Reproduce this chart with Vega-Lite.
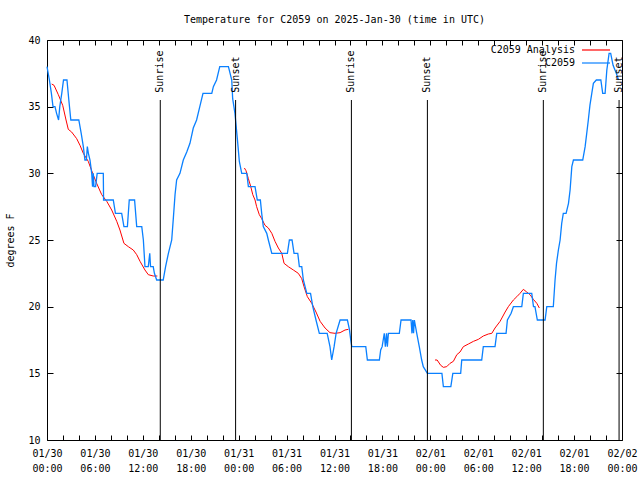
{
  "$schema": "https://vega.github.io/schema/vega-lite/v6.json",
  "width": 575,
  "height": 400,
  "autosize": "none",
  "padding": {"left": 47, "top": 40, "right": 18, "bottom": 40},
  "background": "white",
  "title": {"text": "Temperature for C2059 on 2025-Jan-30 (time in UTC)", "font": "DejaVu Sans Mono", "fontSize": 10, "fontWeight": "normal", "color": "black", "offset": 10},
  "config": {
    "view": {"stroke": "black", "strokeWidth": 1},
    "font": "DejaVu Sans Mono",
    "axis": {"domain": false, "grid": false, "labelFont": "DejaVu Sans Mono", "labelFontSize": 10, "labelColor": "black", "tickColor": "black", "titleFont": "DejaVu Sans Mono", "titleFontSize": 10, "titleFontWeight": "normal", "titleColor": "black"},
    "legend": {"labelFont": "DejaVu Sans Mono", "labelFontSize": 10, "labelColor": "black"}
  },
  "datasets": {
    "station": [
      {"time": "2025-01-30T00:00:00Z", "temp": 38, "series": "C2059"},
      {"time": "2025-01-30T00:18:00Z", "temp": 37, "series": "C2059"},
      {"time": "2025-01-30T00:33:00Z", "temp": 36, "series": "C2059"},
      {"time": "2025-01-30T00:45:00Z", "temp": 35, "series": "C2059"},
      {"time": "2025-01-30T01:00:00Z", "temp": 35, "series": "C2059"},
      {"time": "2025-01-30T01:12:00Z", "temp": 34.5, "series": "C2059"},
      {"time": "2025-01-30T01:27:00Z", "temp": 34, "series": "C2059"},
      {"time": "2025-01-30T01:36:00Z", "temp": 35, "series": "C2059"},
      {"time": "2025-01-30T01:51:00Z", "temp": 36, "series": "C2059"},
      {"time": "2025-01-30T02:04:00Z", "temp": 37, "series": "C2059"},
      {"time": "2025-01-30T02:30:00Z", "temp": 37, "series": "C2059"},
      {"time": "2025-01-30T02:44:00Z", "temp": 35.5, "series": "C2059"},
      {"time": "2025-01-30T02:59:00Z", "temp": 34, "series": "C2059"},
      {"time": "2025-01-30T03:59:00Z", "temp": 34, "series": "C2059"},
      {"time": "2025-01-30T04:17:00Z", "temp": 33, "series": "C2059"},
      {"time": "2025-01-30T04:33:00Z", "temp": 32, "series": "C2059"},
      {"time": "2025-01-30T04:45:00Z", "temp": 31, "series": "C2059"},
      {"time": "2025-01-30T04:56:00Z", "temp": 31, "series": "C2059"},
      {"time": "2025-01-30T05:03:00Z", "temp": 32, "series": "C2059"},
      {"time": "2025-01-30T05:11:00Z", "temp": 31.5, "series": "C2059"},
      {"time": "2025-01-30T05:23:00Z", "temp": 31, "series": "C2059"},
      {"time": "2025-01-30T05:36:00Z", "temp": 30, "series": "C2059"},
      {"time": "2025-01-30T05:42:00Z", "temp": 29, "series": "C2059"},
      {"time": "2025-01-30T05:48:00Z", "temp": 30, "series": "C2059"},
      {"time": "2025-01-30T05:53:00Z", "temp": 29, "series": "C2059"},
      {"time": "2025-01-30T06:05:00Z", "temp": 29, "series": "C2059"},
      {"time": "2025-01-30T06:17:00Z", "temp": 30, "series": "C2059"},
      {"time": "2025-01-30T07:03:00Z", "temp": 30, "series": "C2059"},
      {"time": "2025-01-30T07:05:00Z", "temp": 28, "series": "C2059"},
      {"time": "2025-01-30T08:18:00Z", "temp": 28, "series": "C2059"},
      {"time": "2025-01-30T08:34:00Z", "temp": 27, "series": "C2059"},
      {"time": "2025-01-30T09:21:00Z", "temp": 27, "series": "C2059"},
      {"time": "2025-01-30T09:38:00Z", "temp": 26, "series": "C2059"},
      {"time": "2025-01-30T10:04:00Z", "temp": 26, "series": "C2059"},
      {"time": "2025-01-30T10:18:00Z", "temp": 28, "series": "C2059"},
      {"time": "2025-01-30T10:58:00Z", "temp": 28, "series": "C2059"},
      {"time": "2025-01-30T11:14:00Z", "temp": 26, "series": "C2059"},
      {"time": "2025-01-30T11:52:00Z", "temp": 26, "series": "C2059"},
      {"time": "2025-01-30T12:04:00Z", "temp": 25, "series": "C2059"},
      {"time": "2025-01-30T12:16:00Z", "temp": 23, "series": "C2059"},
      {"time": "2025-01-30T12:41:00Z", "temp": 23, "series": "C2059"},
      {"time": "2025-01-30T12:52:00Z", "temp": 24, "series": "C2059"},
      {"time": "2025-01-30T12:58:00Z", "temp": 23, "series": "C2059"},
      {"time": "2025-01-30T13:18:00Z", "temp": 23, "series": "C2059"},
      {"time": "2025-01-30T13:27:00Z", "temp": 22.5, "series": "C2059"},
      {"time": "2025-01-30T13:44:00Z", "temp": 22, "series": "C2059"},
      {"time": "2025-01-30T14:33:00Z", "temp": 22, "series": "C2059"},
      {"time": "2025-01-30T14:51:00Z", "temp": 23, "series": "C2059"},
      {"time": "2025-01-30T15:12:00Z", "temp": 24, "series": "C2059"},
      {"time": "2025-01-30T15:37:00Z", "temp": 25, "series": "C2059"},
      {"time": "2025-01-30T15:49:00Z", "temp": 26.6, "series": "C2059"},
      {"time": "2025-01-30T16:02:00Z", "temp": 28.4, "series": "C2059"},
      {"time": "2025-01-30T16:14:00Z", "temp": 29.5, "series": "C2059"},
      {"time": "2025-01-30T16:39:00Z", "temp": 30, "series": "C2059"},
      {"time": "2025-01-30T17:04:00Z", "temp": 31, "series": "C2059"},
      {"time": "2025-01-30T17:30:00Z", "temp": 31.6, "series": "C2059"},
      {"time": "2025-01-30T17:54:00Z", "temp": 32.25, "series": "C2059"},
      {"time": "2025-01-30T18:19:00Z", "temp": 33.4, "series": "C2059"},
      {"time": "2025-01-30T18:44:00Z", "temp": 34, "series": "C2059"},
      {"time": "2025-01-30T19:08:00Z", "temp": 35, "series": "C2059"},
      {"time": "2025-01-30T19:32:00Z", "temp": 36, "series": "C2059"},
      {"time": "2025-01-30T20:38:00Z", "temp": 36, "series": "C2059"},
      {"time": "2025-01-30T20:50:00Z", "temp": 36.5, "series": "C2059"},
      {"time": "2025-01-30T21:14:00Z", "temp": 37, "series": "C2059"},
      {"time": "2025-01-30T21:38:00Z", "temp": 38, "series": "C2059"},
      {"time": "2025-01-30T22:43:00Z", "temp": 38, "series": "C2059"},
      {"time": "2025-01-30T23:08:00Z", "temp": 37, "series": "C2059"},
      {"time": "2025-01-30T23:15:00Z", "temp": 35.6, "series": "C2059"},
      {"time": "2025-01-30T23:32:00Z", "temp": 34.5, "series": "C2059"},
      {"time": "2025-01-30T23:50:00Z", "temp": 32.6, "series": "C2059"},
      {"time": "2025-01-31T00:05:00Z", "temp": 30.9, "series": "C2059"},
      {"time": "2025-01-31T00:23:00Z", "temp": 30, "series": "C2059"},
      {"time": "2025-01-31T01:01:00Z", "temp": 30, "series": "C2059"},
      {"time": "2025-01-31T01:13:00Z", "temp": 29, "series": "C2059"},
      {"time": "2025-01-31T02:03:00Z", "temp": 29, "series": "C2059"},
      {"time": "2025-01-31T02:20:00Z", "temp": 28, "series": "C2059"},
      {"time": "2025-01-31T02:43:00Z", "temp": 28, "series": "C2059"},
      {"time": "2025-01-31T02:53:00Z", "temp": 27, "series": "C2059"},
      {"time": "2025-01-31T03:05:00Z", "temp": 26, "series": "C2059"},
      {"time": "2025-01-31T03:31:00Z", "temp": 25.5, "series": "C2059"},
      {"time": "2025-01-31T03:43:00Z", "temp": 25, "series": "C2059"},
      {"time": "2025-01-31T04:09:00Z", "temp": 24, "series": "C2059"},
      {"time": "2025-01-31T06:06:00Z", "temp": 24, "series": "C2059"},
      {"time": "2025-01-31T06:21:00Z", "temp": 25, "series": "C2059"},
      {"time": "2025-01-31T06:41:00Z", "temp": 25, "series": "C2059"},
      {"time": "2025-01-31T06:56:00Z", "temp": 24, "series": "C2059"},
      {"time": "2025-01-31T07:24:00Z", "temp": 24, "series": "C2059"},
      {"time": "2025-01-31T07:36:00Z", "temp": 23, "series": "C2059"},
      {"time": "2025-01-31T07:54:00Z", "temp": 23, "series": "C2059"},
      {"time": "2025-01-31T08:06:00Z", "temp": 22, "series": "C2059"},
      {"time": "2025-01-31T08:32:00Z", "temp": 21, "series": "C2059"},
      {"time": "2025-01-31T09:00:00Z", "temp": 21, "series": "C2059"},
      {"time": "2025-01-31T09:17:00Z", "temp": 20, "series": "C2059"},
      {"time": "2025-01-31T09:41:00Z", "temp": 19, "series": "C2059"},
      {"time": "2025-01-31T10:06:00Z", "temp": 18, "series": "C2059"},
      {"time": "2025-01-31T11:05:00Z", "temp": 18, "series": "C2059"},
      {"time": "2025-01-31T11:26:00Z", "temp": 17, "series": "C2059"},
      {"time": "2025-01-31T11:39:00Z", "temp": 16, "series": "C2059"},
      {"time": "2025-01-31T11:57:00Z", "temp": 17, "series": "C2059"},
      {"time": "2025-01-31T12:12:00Z", "temp": 18, "series": "C2059"},
      {"time": "2025-01-31T12:42:00Z", "temp": 19, "series": "C2059"},
      {"time": "2025-01-31T13:37:00Z", "temp": 19, "series": "C2059"},
      {"time": "2025-01-31T13:52:00Z", "temp": 18.3, "series": "C2059"},
      {"time": "2025-01-31T14:02:00Z", "temp": 17.5, "series": "C2059"},
      {"time": "2025-01-31T14:10:00Z", "temp": 17, "series": "C2059"},
      {"time": "2025-01-31T15:55:00Z", "temp": 17, "series": "C2059"},
      {"time": "2025-01-31T16:07:00Z", "temp": 16, "series": "C2059"},
      {"time": "2025-01-31T17:37:00Z", "temp": 16, "series": "C2059"},
      {"time": "2025-01-31T17:47:00Z", "temp": 16.75, "series": "C2059"},
      {"time": "2025-01-31T17:58:00Z", "temp": 17, "series": "C2059"},
      {"time": "2025-01-31T18:14:00Z", "temp": 18, "series": "C2059"},
      {"time": "2025-01-31T18:22:00Z", "temp": 17, "series": "C2059"},
      {"time": "2025-01-31T18:31:00Z", "temp": 18, "series": "C2059"},
      {"time": "2025-01-31T18:37:00Z", "temp": 17, "series": "C2059"},
      {"time": "2025-01-31T18:45:00Z", "temp": 18, "series": "C2059"},
      {"time": "2025-01-31T20:07:00Z", "temp": 18, "series": "C2059"},
      {"time": "2025-01-31T20:20:00Z", "temp": 19, "series": "C2059"},
      {"time": "2025-01-31T21:35:00Z", "temp": 19, "series": "C2059"},
      {"time": "2025-01-31T21:42:00Z", "temp": 18, "series": "C2059"},
      {"time": "2025-01-31T21:48:00Z", "temp": 19, "series": "C2059"},
      {"time": "2025-01-31T21:54:00Z", "temp": 18, "series": "C2059"},
      {"time": "2025-01-31T22:00:00Z", "temp": 19, "series": "C2059"},
      {"time": "2025-01-31T22:18:00Z", "temp": 18, "series": "C2059"},
      {"time": "2025-01-31T22:37:00Z", "temp": 17, "series": "C2059"},
      {"time": "2025-01-31T22:55:00Z", "temp": 16, "series": "C2059"},
      {"time": "2025-01-31T23:07:00Z", "temp": 15.5, "series": "C2059"},
      {"time": "2025-01-31T23:38:00Z", "temp": 15, "series": "C2059"},
      {"time": "2025-02-01T01:27:00Z", "temp": 15, "series": "C2059"},
      {"time": "2025-02-01T01:38:00Z", "temp": 14, "series": "C2059"},
      {"time": "2025-02-01T02:34:00Z", "temp": 14, "series": "C2059"},
      {"time": "2025-02-01T02:49:00Z", "temp": 15, "series": "C2059"},
      {"time": "2025-02-01T03:48:00Z", "temp": 15, "series": "C2059"},
      {"time": "2025-02-01T03:56:00Z", "temp": 16, "series": "C2059"},
      {"time": "2025-02-01T06:26:00Z", "temp": 16, "series": "C2059"},
      {"time": "2025-02-01T06:38:00Z", "temp": 17, "series": "C2059"},
      {"time": "2025-02-01T08:06:00Z", "temp": 17, "series": "C2059"},
      {"time": "2025-02-01T08:19:00Z", "temp": 18, "series": "C2059"},
      {"time": "2025-02-01T09:29:00Z", "temp": 18, "series": "C2059"},
      {"time": "2025-02-01T09:39:00Z", "temp": 19, "series": "C2059"},
      {"time": "2025-02-01T10:07:00Z", "temp": 19.5, "series": "C2059"},
      {"time": "2025-02-01T10:24:00Z", "temp": 20, "series": "C2059"},
      {"time": "2025-02-01T11:27:00Z", "temp": 20, "series": "C2059"},
      {"time": "2025-02-01T11:39:00Z", "temp": 21, "series": "C2059"},
      {"time": "2025-02-01T12:42:00Z", "temp": 21, "series": "C2059"},
      {"time": "2025-02-01T12:55:00Z", "temp": 20, "series": "C2059"},
      {"time": "2025-02-01T13:06:00Z", "temp": 20, "series": "C2059"},
      {"time": "2025-02-01T13:24:00Z", "temp": 19, "series": "C2059"},
      {"time": "2025-02-01T14:22:00Z", "temp": 19, "series": "C2059"},
      {"time": "2025-02-01T14:35:00Z", "temp": 20, "series": "C2059"},
      {"time": "2025-02-01T15:24:00Z", "temp": 20, "series": "C2059"},
      {"time": "2025-02-01T15:37:00Z", "temp": 22, "series": "C2059"},
      {"time": "2025-02-01T15:48:00Z", "temp": 23.25, "series": "C2059"},
      {"time": "2025-02-01T16:02:00Z", "temp": 24.25, "series": "C2059"},
      {"time": "2025-02-01T16:15:00Z", "temp": 25, "series": "C2059"},
      {"time": "2025-02-01T16:27:00Z", "temp": 26.25, "series": "C2059"},
      {"time": "2025-02-01T16:39:00Z", "temp": 27, "series": "C2059"},
      {"time": "2025-02-01T17:00:00Z", "temp": 27, "series": "C2059"},
      {"time": "2025-02-01T17:18:00Z", "temp": 27.75, "series": "C2059"},
      {"time": "2025-02-01T17:30:00Z", "temp": 28.75, "series": "C2059"},
      {"time": "2025-02-01T17:43:00Z", "temp": 30.5, "series": "C2059"},
      {"time": "2025-02-01T17:55:00Z", "temp": 31, "series": "C2059"},
      {"time": "2025-02-01T19:05:00Z", "temp": 31, "series": "C2059"},
      {"time": "2025-02-01T19:23:00Z", "temp": 32, "series": "C2059"},
      {"time": "2025-02-01T19:35:00Z", "temp": 33, "series": "C2059"},
      {"time": "2025-02-01T19:47:00Z", "temp": 34, "series": "C2059"},
      {"time": "2025-02-01T19:59:00Z", "temp": 35.1, "series": "C2059"},
      {"time": "2025-02-01T20:13:00Z", "temp": 36, "series": "C2059"},
      {"time": "2025-02-01T20:25:00Z", "temp": 36.75, "series": "C2059"},
      {"time": "2025-02-01T20:47:00Z", "temp": 37, "series": "C2059"},
      {"time": "2025-02-01T21:21:00Z", "temp": 37, "series": "C2059"},
      {"time": "2025-02-01T21:35:00Z", "temp": 36, "series": "C2059"},
      {"time": "2025-02-01T21:53:00Z", "temp": 36, "series": "C2059"},
      {"time": "2025-02-01T22:06:00Z", "temp": 37.75, "series": "C2059"},
      {"time": "2025-02-01T22:23:00Z", "temp": 39, "series": "C2059"},
      {"time": "2025-02-01T22:35:00Z", "temp": 39, "series": "C2059"},
      {"time": "2025-02-01T22:53:00Z", "temp": 38.1, "series": "C2059"},
      {"time": "2025-02-01T23:17:00Z", "temp": 37.5, "series": "C2059"},
      {"time": "2025-02-01T23:34:00Z", "temp": 37, "series": "C2059"}
    ],
    "analysis": [
      {"time": "2025-01-30T00:35:00Z", "temp": 36.7, "series": "C2059 Analysis", "seg": 1},
      {"time": "2025-01-30T00:53:00Z", "temp": 36.6, "series": "C2059 Analysis", "seg": 1},
      {"time": "2025-01-30T01:25:00Z", "temp": 35.9, "series": "C2059 Analysis", "seg": 1},
      {"time": "2025-01-30T01:58:00Z", "temp": 35.1, "series": "C2059 Analysis", "seg": 1},
      {"time": "2025-01-30T02:23:00Z", "temp": 34, "series": "C2059 Analysis", "seg": 1},
      {"time": "2025-01-30T02:40:00Z", "temp": 33.3, "series": "C2059 Analysis", "seg": 1},
      {"time": "2025-01-30T03:05:00Z", "temp": 33.1, "series": "C2059 Analysis", "seg": 1},
      {"time": "2025-01-30T03:43:00Z", "temp": 32.6, "series": "C2059 Analysis", "seg": 1},
      {"time": "2025-01-30T04:08:00Z", "temp": 32.1, "series": "C2059 Analysis", "seg": 1},
      {"time": "2025-01-30T04:33:00Z", "temp": 31.5, "series": "C2059 Analysis", "seg": 1},
      {"time": "2025-01-30T05:10:00Z", "temp": 30.9, "series": "C2059 Analysis", "seg": 1},
      {"time": "2025-01-30T05:43:00Z", "temp": 30, "series": "C2059 Analysis", "seg": 1},
      {"time": "2025-01-30T06:13:00Z", "temp": 29.25, "series": "C2059 Analysis", "seg": 1},
      {"time": "2025-01-30T06:51:00Z", "temp": 28.4, "series": "C2059 Analysis", "seg": 1},
      {"time": "2025-01-30T07:29:00Z", "temp": 27.9, "series": "C2059 Analysis", "seg": 1},
      {"time": "2025-01-30T08:06:00Z", "temp": 27.25, "series": "C2059 Analysis", "seg": 1},
      {"time": "2025-01-30T08:44:00Z", "temp": 26.4, "series": "C2059 Analysis", "seg": 1},
      {"time": "2025-01-30T09:08:00Z", "temp": 25.75, "series": "C2059 Analysis", "seg": 1},
      {"time": "2025-01-30T09:38:00Z", "temp": 24.75, "series": "C2059 Analysis", "seg": 1},
      {"time": "2025-01-30T10:11:00Z", "temp": 24.5, "series": "C2059 Analysis", "seg": 1},
      {"time": "2025-01-30T10:48:00Z", "temp": 24.25, "series": "C2059 Analysis", "seg": 1},
      {"time": "2025-01-30T11:14:00Z", "temp": 23.9, "series": "C2059 Analysis", "seg": 1},
      {"time": "2025-01-30T11:39:00Z", "temp": 23.4, "series": "C2059 Analysis", "seg": 1},
      {"time": "2025-01-30T12:16:00Z", "temp": 22.75, "series": "C2059 Analysis", "seg": 1},
      {"time": "2025-01-30T12:41:00Z", "temp": 22.4, "series": "C2059 Analysis", "seg": 1},
      {"time": "2025-01-30T13:18:00Z", "temp": 22.3, "series": "C2059 Analysis", "seg": 1},
      {"time": "2025-01-30T13:49:00Z", "temp": 22.3, "series": "C2059 Analysis", "seg": 1},
      {"time": "2025-01-31T00:43:00Z", "temp": 30.4, "series": "C2059 Analysis", "seg": 2},
      {"time": "2025-01-31T00:55:00Z", "temp": 30.2, "series": "C2059 Analysis", "seg": 2},
      {"time": "2025-01-31T01:13:00Z", "temp": 29.6, "series": "C2059 Analysis", "seg": 2},
      {"time": "2025-01-31T01:31:00Z", "temp": 29, "series": "C2059 Analysis", "seg": 2},
      {"time": "2025-01-31T01:46:00Z", "temp": 28.4, "series": "C2059 Analysis", "seg": 2},
      {"time": "2025-01-31T02:03:00Z", "temp": 28, "series": "C2059 Analysis", "seg": 2},
      {"time": "2025-01-31T02:15:00Z", "temp": 27.5, "series": "C2059 Analysis", "seg": 2},
      {"time": "2025-01-31T02:35:00Z", "temp": 26.9, "series": "C2059 Analysis", "seg": 2},
      {"time": "2025-01-31T02:53:00Z", "temp": 26.6, "series": "C2059 Analysis", "seg": 2},
      {"time": "2025-01-31T03:18:00Z", "temp": 26.1, "series": "C2059 Analysis", "seg": 2},
      {"time": "2025-01-31T03:43:00Z", "temp": 25.9, "series": "C2059 Analysis", "seg": 2},
      {"time": "2025-01-31T04:09:00Z", "temp": 25.5, "series": "C2059 Analysis", "seg": 2},
      {"time": "2025-01-31T04:33:00Z", "temp": 24.9, "series": "C2059 Analysis", "seg": 2},
      {"time": "2025-01-31T04:58:00Z", "temp": 24.4, "series": "C2059 Analysis", "seg": 2},
      {"time": "2025-01-31T05:24:00Z", "temp": 24, "series": "C2059 Analysis", "seg": 2},
      {"time": "2025-01-31T05:41:00Z", "temp": 23.25, "series": "C2059 Analysis", "seg": 2},
      {"time": "2025-01-31T06:13:00Z", "temp": 23, "series": "C2059 Analysis", "seg": 2},
      {"time": "2025-01-31T06:51:00Z", "temp": 22.75, "series": "C2059 Analysis", "seg": 2},
      {"time": "2025-01-31T07:28:00Z", "temp": 22.5, "series": "C2059 Analysis", "seg": 2},
      {"time": "2025-01-31T07:54:00Z", "temp": 22.1, "series": "C2059 Analysis", "seg": 2},
      {"time": "2025-01-31T08:11:00Z", "temp": 21.5, "series": "C2059 Analysis", "seg": 2},
      {"time": "2025-01-31T08:36:00Z", "temp": 20.75, "series": "C2059 Analysis", "seg": 2},
      {"time": "2025-01-31T09:09:00Z", "temp": 20.25, "series": "C2059 Analysis", "seg": 2},
      {"time": "2025-01-31T09:41:00Z", "temp": 19.6, "series": "C2059 Analysis", "seg": 2},
      {"time": "2025-01-31T10:12:00Z", "temp": 18.9, "series": "C2059 Analysis", "seg": 2},
      {"time": "2025-01-31T10:49:00Z", "temp": 18.4, "series": "C2059 Analysis", "seg": 2},
      {"time": "2025-01-31T11:26:00Z", "temp": 18.05, "series": "C2059 Analysis", "seg": 2},
      {"time": "2025-01-31T12:04:00Z", "temp": 18, "series": "C2059 Analysis", "seg": 2},
      {"time": "2025-01-31T12:42:00Z", "temp": 18.05, "series": "C2059 Analysis", "seg": 2},
      {"time": "2025-01-31T13:19:00Z", "temp": 18.25, "series": "C2059 Analysis", "seg": 2},
      {"time": "2025-01-31T13:44:00Z", "temp": 18.3, "series": "C2059 Analysis", "seg": 2},
      {"time": "2025-02-01T00:35:00Z", "temp": 16, "series": "C2059 Analysis", "seg": 3},
      {"time": "2025-02-01T00:51:00Z", "temp": 16, "series": "C2059 Analysis", "seg": 3},
      {"time": "2025-02-01T01:18:00Z", "temp": 15.6, "series": "C2059 Analysis", "seg": 3},
      {"time": "2025-02-01T01:38:00Z", "temp": 15.45, "series": "C2059 Analysis", "seg": 3},
      {"time": "2025-02-01T02:03:00Z", "temp": 15.5, "series": "C2059 Analysis", "seg": 3},
      {"time": "2025-02-01T02:28:00Z", "temp": 15.75, "series": "C2059 Analysis", "seg": 3},
      {"time": "2025-02-01T02:53:00Z", "temp": 15.9, "series": "C2059 Analysis", "seg": 3},
      {"time": "2025-02-01T03:19:00Z", "temp": 16.4, "series": "C2059 Analysis", "seg": 3},
      {"time": "2025-02-01T03:43:00Z", "temp": 16.6, "series": "C2059 Analysis", "seg": 3},
      {"time": "2025-02-01T04:08:00Z", "temp": 17, "series": "C2059 Analysis", "seg": 3},
      {"time": "2025-02-01T04:46:00Z", "temp": 17.2, "series": "C2059 Analysis", "seg": 3},
      {"time": "2025-02-01T05:24:00Z", "temp": 17.4, "series": "C2059 Analysis", "seg": 3},
      {"time": "2025-02-01T06:01:00Z", "temp": 17.55, "series": "C2059 Analysis", "seg": 3},
      {"time": "2025-02-01T06:38:00Z", "temp": 17.8, "series": "C2059 Analysis", "seg": 3},
      {"time": "2025-02-01T07:16:00Z", "temp": 17.95, "series": "C2059 Analysis", "seg": 3},
      {"time": "2025-02-01T07:42:00Z", "temp": 18, "series": "C2059 Analysis", "seg": 3},
      {"time": "2025-02-01T08:06:00Z", "temp": 18.4, "series": "C2059 Analysis", "seg": 3},
      {"time": "2025-02-01T08:44:00Z", "temp": 18.9, "series": "C2059 Analysis", "seg": 3},
      {"time": "2025-02-01T09:22:00Z", "temp": 19.6, "series": "C2059 Analysis", "seg": 3},
      {"time": "2025-02-01T09:46:00Z", "temp": 20, "series": "C2059 Analysis", "seg": 3},
      {"time": "2025-02-01T10:24:00Z", "temp": 20.5, "series": "C2059 Analysis", "seg": 3},
      {"time": "2025-02-01T10:50:00Z", "temp": 20.75, "series": "C2059 Analysis", "seg": 3},
      {"time": "2025-02-01T11:14:00Z", "temp": 21, "series": "C2059 Analysis", "seg": 3},
      {"time": "2025-02-01T11:39:00Z", "temp": 21.3, "series": "C2059 Analysis", "seg": 3},
      {"time": "2025-02-01T12:04:00Z", "temp": 21.1, "series": "C2059 Analysis", "seg": 3},
      {"time": "2025-02-01T12:29:00Z", "temp": 20.9, "series": "C2059 Analysis", "seg": 3},
      {"time": "2025-02-01T12:54:00Z", "temp": 20.55, "series": "C2059 Analysis", "seg": 3},
      {"time": "2025-02-01T13:20:00Z", "temp": 20.25, "series": "C2059 Analysis", "seg": 3},
      {"time": "2025-02-01T13:39:00Z", "temp": 19.9, "series": "C2059 Analysis", "seg": 3}
    ],
    "sun": [
      {"time": "2025-01-30T14:11:00Z", "event": "Sunrise"},
      {"time": "2025-01-30T23:37:00Z", "event": "Sunset"},
      {"time": "2025-01-31T14:07:00Z", "event": "Sunrise"},
      {"time": "2025-01-31T23:38:00Z", "event": "Sunset"},
      {"time": "2025-02-01T14:09:00Z", "event": "Sunrise"},
      {"time": "2025-02-01T23:38:00Z", "event": "Sunset"}
    ]
  },
  "layer": [
    {
      "data": {"name": "analysis"},
      "mark": {"type": "line", "strokeWidth": 1},
      "encoding": {
        "x": {"field": "time", "type": "temporal",
          "scale": {"type": "utc", "nice": false, "domain": [{"year": 2025, "month": 1, "date": 30, "utc": true}, {"year": 2025, "month": 2, "date": 2, "utc": true}]},
          "axis": {"orient": "bottom", "title": null, "tickCount": 40,
            "values": [1738195200000, 1738202400000, 1738209600000, 1738216800000, 1738224000000, 1738231200000, 1738238400000, 1738245600000, 1738252800000, 1738260000000, 1738267200000, 1738274400000, 1738281600000, 1738288800000, 1738296000000, 1738303200000, 1738310400000, 1738317600000, 1738324800000, 1738332000000, 1738339200000, 1738346400000, 1738353600000, 1738360800000, 1738368000000, 1738375200000, 1738382400000, 1738389600000, 1738396800000, 1738404000000, 1738411200000, 1738418400000, 1738425600000, 1738432800000, 1738440000000, 1738447200000, 1738454400000],
            "labelExpr": "utchours(datum.value) % 6 == 0 ? [utcFormat(datum.value, '%m/%d'), utcFormat(datum.value, '%H:%M')] : ''",
            "tickSize": -5,
            "labelPadding": 13, "labelLineHeight": 15, "labelBaseline": "top", "labelOverlap": false, "labelFlush": false}},
        "y": {"field": "temp", "type": "quantitative",
          "scale": {"domain": [10, 40], "nice": false, "zero": false},
          "axis": {"orient": "left", "title": "degrees F", "values": [10, 15, 20, 25, 30, 35, 40], "tickSize": -6, "labelPadding": 13, "titlePadding": 12}},
        "color": {"field": "series", "type": "nominal",
          "scale": {"domain": ["C2059 Analysis", "C2059"], "range": ["#ff0000", "#0a80ff"]},
          "legend": {"orient": "none", "legendX": 541, "legendY": 2, "padding": 0, "title": null, "symbolType": "M-2,0H2", "symbolSize": 196, "symbolStrokeWidth": 1.2, "labelAlign": "right", "labelOffset": -29, "rowPadding": 0}},
        "detail": {"field": "seg", "type": "nominal"}
      }
    },
    {
      "data": {"name": "station"},
      "mark": {"type": "line", "strokeWidth": 1.3},
      "encoding": {
        "x": {"field": "time", "type": "temporal",
          "axis": {"orient": "top", "title": null, "labels": false, "tickCount": 40, "tickSize": -5,
            "values": [1738195200000, 1738202400000, 1738209600000, 1738216800000, 1738224000000, 1738231200000, 1738238400000, 1738245600000, 1738252800000, 1738260000000, 1738267200000, 1738274400000, 1738281600000, 1738288800000, 1738296000000, 1738303200000, 1738310400000, 1738317600000, 1738324800000, 1738332000000, 1738339200000, 1738346400000, 1738353600000, 1738360800000, 1738368000000, 1738375200000, 1738382400000, 1738389600000, 1738396800000, 1738404000000, 1738411200000, 1738418400000, 1738425600000, 1738432800000, 1738440000000, 1738447200000, 1738454400000]}},
        "y": {"field": "temp", "type": "quantitative",
          "axis": {"orient": "right", "title": null, "labels": false, "values": [10, 15, 20, 25, 30, 35, 40], "tickSize": -6}},
        "color": {"field": "series", "type": "nominal"}
      }
    },
    {
      "data": {"name": "sun"},
      "mark": {"type": "rule", "color": "black", "strokeWidth": 1},
      "encoding": {
        "x": {"field": "time", "type": "temporal", "axis": null},
        "y": {"datum": 35.5, "type": "quantitative", "axis": null},
        "y2": {"datum": 10}
      }
    },
    {
      "data": {"name": "sun"},
      "mark": {"type": "text", "angle": 270, "align": "left", "baseline": "middle", "font": "DejaVu Sans Mono", "fontSize": 10, "color": "black"},
      "encoding": {
        "x": {"field": "time", "type": "temporal", "axis": null},
        "y": {"datum": 36.05, "type": "quantitative", "axis": null},
        "text": {"field": "event", "type": "nominal"}
      }
    }
  ],
  "resolve": {"axis": {"x": "independent", "y": "independent"}}
}
